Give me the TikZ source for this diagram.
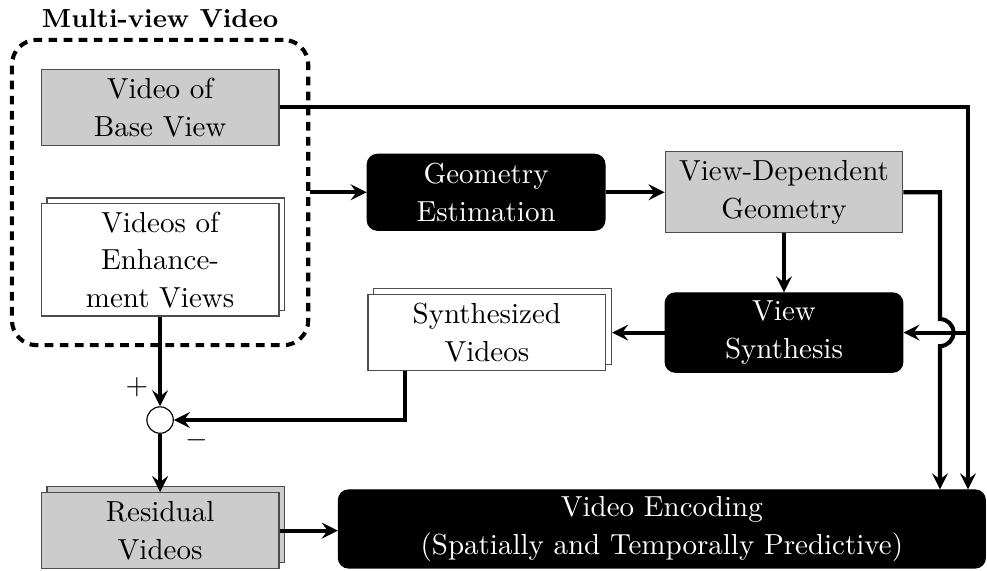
\documentclass[tikz,border=0pt]{standalone}
\usetikzlibrary{shadows}
\begin{document}
\begin{tikzpicture}[
	box/.style={rectangle,draw=black!70,thin,minimum width=2.88cm,minimum height=0.92cm,
	inner sep=1pt,align=center,font=\fontsize{10}{13}\selectfont},
	data/.style={box,fill=black!20},
	proc/.style={box,draw=black,fill=black,text=white,rounded corners=3.5pt},
	stack/.style={copy shadow={shadow xshift=2pt,shadow yshift=2pt}},
	conn/.style={>=stealth,line width=1.4pt,->},
	]
	\useasboundingbox (0,0) rectangle (11.96,-6.91);
	% multi-view input
	\node[font=\fontsize{9}{11}\selectfont\bfseries] (mvvlabel) at (1.94,-0.22) {Multi-view Video};
	\node[draw, line width=1.4pt, dash pattern=on 3pt off 2.2pt, rounded corners=0.3cm,
	minimum width=3.59cm, minimum height=3.70cm] (mvv) at (1.94,-2.333) {};
	\node[data] (base) at (1.94,-1.30) {Video of\\Base View};
	\node[box, stack, fill=white, minimum height=1.36cm] (enh) at (1.94,-3.15) {Videos of\\Enhance-\\ment Views};
	% geometry and synthesis
	\node[proc] (ge) at (5.89,-2.33) {Geometry\\Estimation};
	\node[data, minimum height=0.98cm] (vdg) at (9.50,-2.33) {View-Dependent\\Geometry};
	\node[proc, minimum height=0.96cm] (vs) at (9.50,-4.03) {View\\Synthesis};
	\node[box, stack, fill=white] (synth) at (5.90,-4.03) {Synthesized\\Videos};
	% residual and coding
	\node[circle, draw, thin, fill=white, minimum size=0.32cm, inner sep=0pt] (sum) at (1.94,-5.09) {};
	\node (plus) at (1.66,-4.69) {$+$};
	\node (minus) at (2.39,-5.34) {$-$};
	\node[data, stack] (res) at (1.94,-6.43) {Residual\\Videos};
	\node[proc, minimum width=7.84cm, minimum height=0.945cm] (ve) at (8.02,-6.41)
	{Video Encoding\\(Spatially and Temporally Predictive)};
	\coordinate (gvx) at (11.39,0);
	\coordinate (bvx) at (11.73,0);
	% connectors
	\draw[conn] (mvv.east |- ge.west) -- (ge.west);
	\draw[conn] (ge.east) -- (ge.east -| vdg.west);
	\draw[conn] (vdg) -- (vs);
	\draw[conn] (vs.west) -- ([xshift=2pt]synth.east);
	\draw[conn] (base.east) -| (bvx |- ve.north);
	\draw[conn] (bvx |- vs.east) -- (vs.east);
	\draw[conn] (vdg.east) -| ([yshift=0.164cm]gvx |- vs.east)
		arc[start angle=90, end angle=-90, radius=0.164cm] -- (gvx |- ve.north);
	\draw[conn] (enh) -- (sum);
	\draw[conn] ([xshift=0.45cm]synth.south west) |- (sum);
	\draw[conn] (sum) -- (res);
	\draw[conn] (res.east) -- (res.east -| ve.west);
\end{tikzpicture}
\end{document}
